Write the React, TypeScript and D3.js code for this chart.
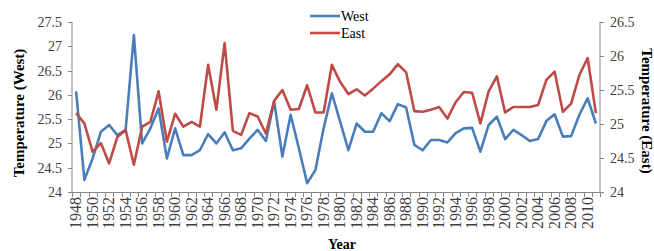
import { useEffect, useRef } from "react";
import * as d3 from "d3";

const years = [
  1948, 1949, 1950, 1951, 1952, 1953, 1954, 1955, 1956, 1957, 1958, 1959,
  1960, 1961, 1962, 1963, 1964, 1965, 1966, 1967, 1968, 1969, 1970, 1971,
  1972, 1973, 1974, 1975, 1976, 1977, 1978, 1979, 1980, 1981, 1982, 1983,
  1984, 1985, 1986, 1987, 1988, 1989, 1990, 1991, 1992, 1993, 1994, 1995,
  1996, 1997, 1998, 1999, 2000, 2001, 2002, 2003, 2004, 2005, 2006, 2007,
  2008, 2009, 2010, 2011,
];

// left axis
const westTemp = [
  26.07, 24.25, 24.69, 25.24, 25.38, 25.17, 25.28, 27.23, 25.0, 25.31, 25.72,
  24.69, 25.31, 24.76, 24.76, 24.86, 25.19, 25.0, 25.23, 24.86, 24.9, 25.1,
  25.28, 25.05, 25.87, 24.73, 25.59, 24.9, 24.18, 24.45, 25.31, 26.03, 25.45,
  24.86, 25.41, 25.24, 25.24, 25.62, 25.46, 25.81, 25.74, 24.97, 24.86, 25.07,
  25.07, 25.02, 25.21, 25.31, 25.32, 24.83, 25.38, 25.55, 25.09, 25.28, 25.17,
  25.05, 25.09, 25.46, 25.6, 25.14, 25.15, 25.59, 25.93, 25.41,
];

// right axis
const eastTemp = [
  25.16, 25.01, 24.59, 24.72, 24.42, 24.81, 24.91, 24.4, 24.96, 25.03, 25.48,
  24.74, 25.15, 24.96, 25.03, 24.96, 25.87, 25.21, 26.19, 24.9, 24.84, 25.16,
  25.11, 24.86, 25.34, 25.5, 25.21, 25.22, 25.57, 25.17, 25.17, 25.87, 25.62,
  25.44, 25.51, 25.42, 25.52, 25.63, 25.73, 25.88, 25.76, 25.19, 25.18, 25.21,
  25.25, 25.08, 25.32, 25.47, 25.46, 25.01, 25.48, 25.7, 25.17, 25.25, 25.25,
  25.25, 25.28, 25.65, 25.77, 25.18, 25.3, 25.72, 25.97, 25.16,
];

const westTicks = [24, 24.5, 25, 25.5, 26, 26.5, 27, 27.5];
const eastTicks = [24, 24.5, 25, 25.5, 26, 26.5];
const yearLabels = [
  1948, 1950, 1952, 1954, 1956, 1958, 1960, 1962, 1964, 1966, 1968, 1970,
  1972, 1974, 1976, 1978, 1980, 1982, 1984, 1986, 1988, 1990, 1992, 1994,
  1996, 1998, 2000, 2002, 2004, 2006, 2008, 2010,
];

const seriesNames = ["West", "East"];
const colors = ["#4a7ebb", "#be4b48"];

const App = () => {
  const ref = useRef<SVGSVGElement>(null);

  useEffect(() => {
    const svg = d3.select(ref.current);
    svg.selectAll("*").remove();

    const left = 72,
      right = 600,
      top = 22,
      bottom = 192;
    const font = "'Liberation Serif', 'Times New Roman', serif";
    const axisColor = "#868686";
    const labelColor = "#404040";

    const x = d3.scaleBand<number>().domain(years).range([left, right]);
    const yWest = d3.scaleLinear().domain([24, 27.5]).range([bottom, top]);
    const yEast = d3.scaleLinear().domain([24, 26.5]).range([bottom, top]);
    const cx = (yr: number) => x(yr)! + x.bandwidth() / 2;

    // axis lines
    svg
      .append("line")
      .attr("x1", left)
      .attr("x2", left)
      .attr("y1", top)
      .attr("y2", bottom)
      .attr("stroke", axisColor);
    svg
      .append("line")
      .attr("x1", right)
      .attr("x2", right)
      .attr("y1", top)
      .attr("y2", bottom)
      .attr("stroke", axisColor);
    svg
      .append("line")
      .attr("x1", left)
      .attr("x2", right)
      .attr("y1", bottom + 0.5)
      .attr("y2", bottom + 0.5)
      .attr("stroke", axisColor);

    // left ticks + labels
    westTicks.forEach((t) => {
      const y = Math.round(yWest(t)) + 0.5;
      svg
        .append("line")
        .attr("x1", left - 4)
        .attr("x2", left)
        .attr("y1", y)
        .attr("y2", y)
        .attr("stroke", axisColor);
      svg
        .append("text")
        .attr("x", left - 10)
        .attr("y", y)
        .attr("dy", "0.35em")
        .attr("text-anchor", "end")
        .attr("font-family", font)
        .attr("font-size", 14)
        .attr("fill", labelColor)
        .text(String(t));
    });

    // right ticks + labels
    eastTicks.forEach((t) => {
      const y = Math.round(yEast(t)) + 0.5;
      svg
        .append("line")
        .attr("x1", right)
        .attr("x2", right + 4)
        .attr("y1", y)
        .attr("y2", y)
        .attr("stroke", axisColor);
      svg
        .append("text")
        .attr("x", right + 10)
        .attr("y", y)
        .attr("dy", "0.35em")
        .attr("font-family", font)
        .attr("font-size", 14)
        .attr("fill", labelColor)
        .text(String(t));
    });

    // category tick marks between years
    const bounds = years.map((yr) => x(yr)!).concat([right]);
    bounds.forEach((bx) => {
      svg
        .append("line")
        .attr("x1", Math.round(bx) + 0.5)
        .attr("x2", Math.round(bx) + 0.5)
        .attr("y1", bottom)
        .attr("y2", bottom + 5)
        .attr("stroke", axisColor);
    });

    yearLabels.forEach((yr) => {
      svg
        .append("text")
        .attr("transform", `translate(${cx(yr) + 5},${bottom + 5}) rotate(-90)`)
        .attr("text-anchor", "end")
        .attr("font-family", font)
        .attr("font-size", 16)
        .attr("fill", labelColor)
        .text(String(yr));
    });

    // lines
    const westLine = d3
      .line<number>()
      .x((d, i) => cx(years[i]))
      .y((d) => yWest(d));
    const eastLine = d3
      .line<number>()
      .x((d, i) => cx(years[i]))
      .y((d) => yEast(d));

    svg
      .append("path")
      .datum(westTemp)
      .attr("d", westLine)
      .attr("fill", "none")
      .attr("stroke", colors[0])
      .attr("stroke-width", 2.6)
      .attr("stroke-linejoin", "round");
    svg
      .append("path")
      .datum(eastTemp)
      .attr("d", eastLine)
      .attr("fill", "none")
      .attr("stroke", colors[1])
      .attr("stroke-width", 2.6)
      .attr("stroke-linejoin", "round");

    // legend
    seriesNames.forEach((name, i) => {
      const ly = 16 + i * 17;
      svg
        .append("line")
        .attr("x1", 310)
        .attr("x2", 340)
        .attr("y1", ly)
        .attr("y2", ly)
        .attr("stroke", colors[i])
        .attr("stroke-width", 2.6);
      svg
        .append("text")
        .attr("x", 341)
        .attr("y", ly)
        .attr("dy", "0.35em")
        .attr("font-family", font)
        .attr("font-size", 14)
        .attr("fill", "#000")
        .text(name);
    });

    // axis titles
    svg
      .append("text")
      .attr("transform", `translate(24,${(top + bottom) / 2 + 6}) rotate(-90)`)
      .attr("text-anchor", "middle")
      .attr("font-family", font)
      .attr("font-size", 15)
      .attr("font-weight", "bold")
      .text("Temperature (West)");
    svg
      .append("text")
      .attr("transform", `translate(642,${(top + bottom) / 2 + 4}) rotate(90)`)
      .attr("text-anchor", "middle")
      .attr("font-family", font)
      .attr("font-size", 15)
      .attr("font-weight", "bold")
      .text("Temperature (East)");
    svg
      .append("text")
      .attr("x", 342)
      .attr("y", 249)
      .attr("text-anchor", "middle")
      .attr("font-family", font)
      .attr("font-size", 14)
      .attr("font-weight", "bold")
      .text("Year");
  }, []);

  return (
    <svg
      ref={ref}
      width={654}
      height={251}
      style={{ position: "absolute", left: 0, top: 0, background: "#fff" }}
    />
  );
};

export default App;
